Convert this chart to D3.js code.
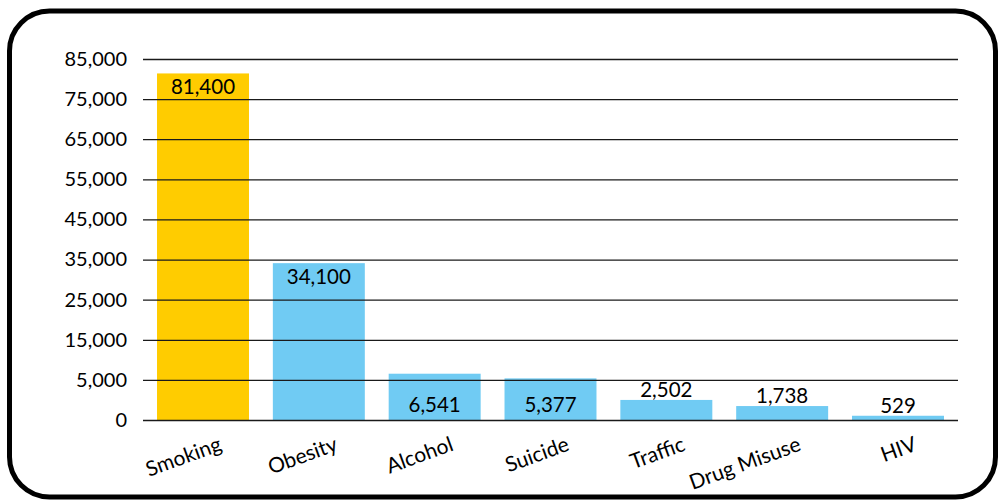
<!DOCTYPE html>
<html>
<head>
<meta charset="utf-8">
<script src="https://cdn.jsdelivr.net/npm/d3@7"></script>
<style>
html,body{margin:0;padding:0;background:#fff;}
svg{display:block;font-family:Lato,"Open Sans",sans-serif;}
</style>
</head>
<body>
<svg id="chart" width="999" height="502"></svg>
<script>
const categories = ["Smoking","Obesity","Alcohol","Suicide","Traffic","Drug Misuse","HIV"];
const values = [81400, 34100, 6541, 5377, 2502, 1738, 529];
const tickValues = [0, 5000, 15000, 25000, 35000, 45000, 55000, 65000, 75000, 85000];
const highlight = ["Smoking"];

const svg = d3.select("#chart");
const plot = {left:143, right:958, top:59, bottom:420};

// frame
svg.append("rect")
  .attr("x",9.5).attr("y",11).attr("width",986).attr("height",486)
  .attr("rx",40).attr("ry",40)
  .attr("fill","#fff").attr("stroke","#000").attr("stroke-width",5);

const x = d3.scaleBand().domain(categories)
  .range([plot.left, plot.right]).paddingInner(0.206).paddingOuter(0.121);

// the reference axis is labelled 0, 5,000, 15,000 ... at equal spacing
const y = d3.scaleLinear().domain([0, 5000, 85000])
  .range([plot.bottom, plot.bottom - (plot.bottom - plot.top)/9, plot.top]);

const fmt = d3.format(",");

// bars
svg.append("g").selectAll("rect").data(categories).join("rect")
  .attr("x", d => x(d))
  .attr("width", x.bandwidth())
  .attr("y", (d,i) => y(values[i]))
  .attr("height", (d,i) => y(0) - y(values[i]))
  .attr("fill", d => highlight.includes(d) ? "#FFCC00" : "#70CBF3");

// gridlines + axis labels
const yAxis = d3.axisLeft(y).tickValues(tickValues).tickFormat(fmt)
  .tickSize(-(plot.right - plot.left)).tickPadding(16);
const gy = svg.append("g").attr("transform", `translate(${plot.left},0)`).call(yAxis);
gy.select(".domain").remove();
gy.selectAll(".tick line").attr("stroke","#1a1a1a").attr("stroke-width",1.3);
gy.selectAll(".tick text").attr("font-size",20).attr("fill","#000")
  .attr("font-family","Lato,sans-serif").attr("x",-16);

// value labels
svg.append("g").selectAll("text").data(categories).join("text")
  .attr("text-anchor","middle")
  .attr("font-size",20.5)
  .attr("fill","#000")
  .attr("x", d => x(d) + x.bandwidth()/2)
  .attr("y", (d,i) => {
    const top = y(values[i]), h = y(0) - top;
    if (h > 100) return top + 21;        // inside end
    if (h > 35) return y(0) - 8;         // inside base
    return top - 3;                      // outside end
  })
  .text((d,i) => fmt(values[i]));

// category labels (rotated)
svg.append("g").selectAll("text").data(categories).join("text")
  .attr("text-anchor","end")
  .attr("font-size",21)
  .attr("fill","#000")
  .attr("transform", d => `translate(${x(d) + x.bandwidth()/2 + 20},450) rotate(-20)`)
  .text(d => d);
</script>
</body>
</html>
